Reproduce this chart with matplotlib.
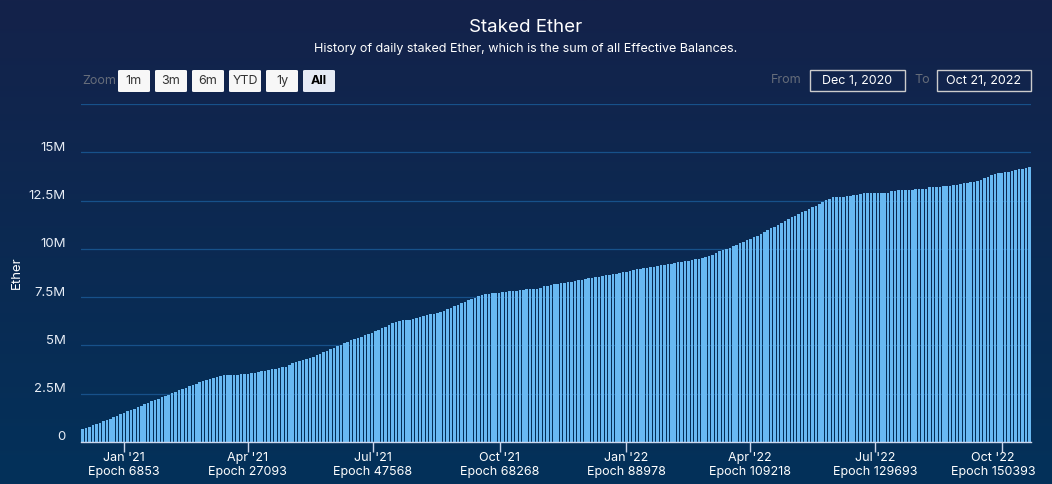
import numpy as np
import pandas as pd
import matplotlib
matplotlib.use("Agg")
import matplotlib.pyplot as plt
import matplotlib.dates as mdates
import matplotlib.transforms as mtransforms
from matplotlib.patches import FancyBboxPatch, Rectangle

plt.rcParams["font.family"] = ["Inter", "DejaVu Sans"]

# ── data (staked ether, millions, one bar every 2.5 days from Dec 1, 2020) ──
start_date = "2020-12-01"
end_date = "2022-10-22"
bar_step_days = 2.5
staked_m = [
    0.65, 0.72, 0.79, 0.86, 0.93, 1.00, 1.07, 1.14, 1.21, 1.28,
    1.37, 1.44, 1.51, 1.58, 1.66, 1.73, 1.80, 1.88, 1.95, 2.02,
    2.10, 2.17, 2.24, 2.32, 2.39, 2.46, 2.53, 2.60, 2.67, 2.74,
    2.81, 2.88, 2.95, 3.02, 3.09, 3.16, 3.23, 3.28, 3.33, 3.38,
    3.43, 3.45, 3.46, 3.47, 3.48, 3.49, 3.50, 3.52, 3.53, 3.55,
    3.60, 3.63, 3.66, 3.70, 3.73, 3.76, 3.80, 3.83, 3.87, 3.91,
    4.01, 4.07, 4.12, 4.18, 4.24, 4.30, 4.35, 4.42, 4.50, 4.58,
    4.65, 4.73, 4.81, 4.89, 4.97, 5.05, 5.12, 5.19, 5.26, 5.33,
    5.38, 5.45, 5.52, 5.59, 5.66, 5.74, 5.82, 5.90, 5.98, 6.06,
    6.14, 6.22, 6.29, 6.31, 6.32, 6.34, 6.38, 6.43, 6.47, 6.52,
    6.56, 6.61, 6.65, 6.70, 6.74, 6.80, 6.87, 6.95, 7.02, 7.10,
    7.18, 7.27, 7.33, 7.40, 7.47, 7.54, 7.61, 7.67, 7.69, 7.71,
    7.73, 7.74, 7.76, 7.78, 7.80, 7.82, 7.84, 7.86, 7.88, 7.90,
    7.92, 7.93, 7.95, 8.00, 8.06, 8.10, 8.13, 8.16, 8.19, 8.22,
    8.25, 8.28, 8.31, 8.34, 8.37, 8.40, 8.44, 8.47, 8.50, 8.53,
    8.56, 8.60, 8.64, 8.66, 8.69, 8.72, 8.76, 8.80, 8.83, 8.87,
    8.90, 8.94, 8.97, 9.00, 9.03, 9.06, 9.09, 9.12, 9.15, 9.18,
    9.21, 9.24, 9.27, 9.30, 9.33, 9.36, 9.39, 9.43, 9.46, 9.50,
    9.53, 9.56, 9.64, 9.71, 9.79, 9.87, 9.93, 9.98, 10.05, 10.13,
    10.21, 10.29, 10.37, 10.44, 10.52, 10.60, 10.68, 10.77, 10.87, 10.97,
    11.06, 11.16, 11.25, 11.35, 11.44, 11.54, 11.63, 11.72, 11.81, 11.90,
    11.98, 12.07, 12.16, 12.25, 12.35, 12.44, 12.52, 12.60, 12.68, 12.69,
    12.71, 12.71, 12.72, 12.74, 12.78, 12.82, 12.86, 12.88, 12.89, 12.89,
    12.90, 12.90, 12.90, 12.91, 12.91, 13.01, 13.02, 13.03, 13.03, 13.03,
    13.03, 13.04, 13.10, 13.10, 13.11, 13.12, 13.20, 13.21, 13.22, 13.23,
    13.25, 13.25, 13.25, 13.30, 13.32, 13.36, 13.40, 13.42, 13.45, 13.49,
    13.53, 13.58, 13.66, 13.74, 13.81, 13.86, 13.91, 13.95, 13.98, 14.01,
    14.05, 14.09, 14.12, 14.15, 14.18, 14.25,
]

tick_dates = ["2021-01-01", "2021-04-01", "2021-07-01", "2021-10-01",
              "2022-01-01", "2022-04-01", "2022-07-01", "2022-10-01"]
tick_months = ["Jan '21", "Apr '21", "Jul '21", "Oct '21",
               "Jan '22", "Apr '22", "Jul '22", "Oct '22"]
tick_epochs = [6853, 27093, 47568, 68268, 88978, 109218, 129693, 150393]

y_ticks = [0, 2.5, 5, 7.5, 10, 12.5, 15, 17.5]
y_tick_labels = ["0", "2.5M", "5M", "7.5M", "10M", "12.5M", "15M", ""]

zoom_buttons = ["1m", "3m", "6m", "YTD", "1y", "All"]
date_from = "Dec 1, 2020"
date_to = "Oct 21, 2022"

# ── figure ──
W, H = 1052, 484
fig = plt.figure(figsize=(W / 100, H / 100), dpi=100)


def fx(x):
    return x / W


def fy(y):
    return 1 - y / H


# background gradient
bg = fig.add_axes([0, 0, 1, 1], zorder=-10)
grad = np.linspace(0, 1, 256)[:, None]
top = np.array([20, 34, 74]) / 255
bot = np.array([3, 49, 90]) / 255
img = top[None, None, :] * (1 - grad[..., None]) + bot[None, None, :] * grad[..., None]
bg.imshow(img, aspect="auto", extent=[0, 1, 0, 1])
bg.axis("off")

ax = fig.add_axes([fx(81), fy(442), fx(1031) - fx(81), fy(104) - fy(442)])
ax.patch.set_alpha(0)

start = mdates.date2num(pd.Timestamp(start_date))
x = start + np.arange(len(staked_m)) * bar_step_days + bar_step_days / 2
ax.bar(x, np.array(staked_m) * 1e6, width=1.85, color="#68b8f2", linewidth=0, zorder=3)

ax.set_xlim(start, mdates.date2num(pd.Timestamp(end_date)))
ax.set_ylim(0, 17.5e6 * 1.0005)

ax.set_yticks([v * 1e6 for v in y_ticks])
ax.set_yticklabels(y_tick_labels)
ax.tick_params(axis="y", length=0, pad=11, labelsize=9.5, labelcolor="#e6ecf5")
ax.grid(axis="y", color="#17518a", linewidth=0.9, zorder=0)
# labels sit a little above their grid lines
up = mtransforms.ScaledTranslation(0, 0.06, fig.dpi_scale_trans)
for lab in ax.get_yticklabels():
    lab.set_transform(lab.get_transform() + up)

ax.set_xticks([mdates.date2num(pd.Timestamp(d)) for d in tick_dates])
ax.set_xticklabels([f"{m}\nEpoch {e}" for m, e in zip(tick_months, tick_epochs)],
                   linespacing=1.25)
ax.tick_params(axis="x", length=7, width=1, color="#ccd6eb", pad=0,
               labelsize=9, labelcolor="#ffffff")
# keep the last label inside the plot like the original
left = mtransforms.ScaledTranslation(-0.09, 0, fig.dpi_scale_trans)
last = ax.get_xticklabels()[-1]
last.set_transform(last.get_transform() + left)

for side in ["top", "right", "left"]:
    ax.spines[side].set_visible(False)
ax.spines["bottom"].set_color("#ccd6eb")
ax.spines["bottom"].set_linewidth(1)
ax.spines["bottom"].set_zorder(4)

ax.set_ylabel("Ether", color="white", fontsize=9.5)
ax.yaxis.set_label_coords((23 - 81) / 950, 0.5)

# titles
fig.text(0.5, fy(27), "Staked Ether", ha="center", va="center",
         color="white", fontsize=13.5)
fig.text(0.5, fy(49), "History of daily staked Ether, which is the sum of all Effective Balances.",
         ha="center", va="center", color="white", fontsize=9)

# zoom buttons
fig.text(fx(82), fy(81), "Zoom", ha="left", va="center", color="#666d7a", fontsize=9)
bx = 118
for label in zoom_buttons:
    selected = label == "All"
    fig.patches.append(FancyBboxPatch(
        (fx(bx), fy(92)), fx(32), fy(70) - fy(92),
        boxstyle="round,pad=0,rounding_size=0.002",
        transform=fig.transFigure, facecolor="#e6ebf5" if selected else "#f7f7f7",
        edgecolor="none"))
    fig.text(fx(bx + 16), fy(81), label, ha="center", va="center",
             color="#000000" if selected else "#333333", fontsize=9,
             fontweight="bold" if selected else "normal")
    bx += 37

# date range inputs
fig.text(fx(802), fy(80), "From", ha="right", va="center", color="#666d7a", fontsize=9)
fig.text(fx(930), fy(80), "To", ha="right", va="center", color="#666d7a", fontsize=9)
for x0, x1, txt in [(810, 905, date_from), (937, 1031, date_to)]:
    fig.patches.append(Rectangle((fx(x0), fy(91)), fx(x1 - x0), fy(70) - fy(91),
                                 transform=fig.transFigure, facecolor="none",
                                 edgecolor="#cccccc", linewidth=1))
    fig.text(fx((x0 + x1) / 2), fy(80.5), txt, ha="center", va="center",
             color="white", fontsize=9)

fig.savefig("out.png", dpi=100)
